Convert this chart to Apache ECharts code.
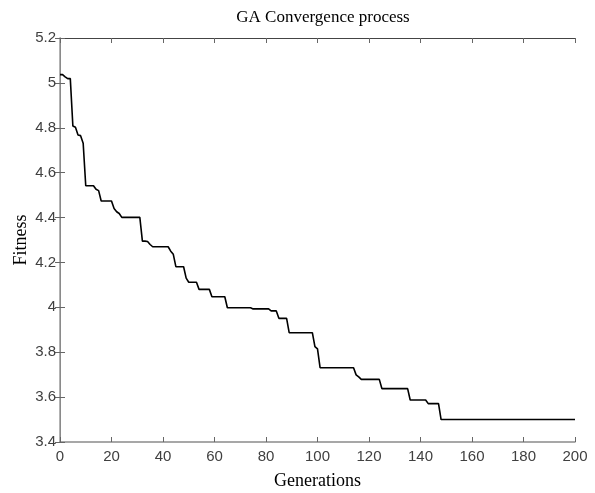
<!DOCTYPE html>
<html>
<head>
<meta charset="utf-8">
<script src="https://cdn.jsdelivr.net/npm/echarts@6/dist/echarts.min.js"></script>
<style>html,body{margin:0;padding:0;background:#fff}#c{width:595px;height:493px}</style>
</head>
<body>
<div id="c"></div>
<script>
// Fitness per generation (0..200)
const gen0to31 = [5.037,5.037,5.027,5.019,5.019,4.808,4.802,4.768,4.765,4.731,
  4.542,4.542,4.542,4.542,4.526,4.520,4.474,4.474,4.474,4.474,
  4.474,4.440,4.426,4.418,4.401,4.401,4.401,4.401,4.401,4.401,4.401,4.401];
const gen32to64 = [4.295,4.295,4.293,4.280,4.270,4.270,4.270,4.270,4.270,4.270,
  4.270,4.250,4.236,4.181,4.181,4.181,4.181,4.130,4.112,4.112,
  4.112,4.112,4.080,4.080,4.080,4.080,4.080,4.047,4.047,4.047,
  4.047,4.047,4.047];
const gen65to100 = [3.998,3.998,3.998,3.998,3.998,3.998,3.998,3.998,3.998,3.998,
  3.993,3.993,3.993,3.993,3.993,3.993,3.993,3.984,3.984,3.984,
  3.951,3.951,3.951,3.951,3.887,3.887,3.887,3.887,3.887,3.887,
  3.887,3.887,3.887,3.887,3.825,3.815];
const gen101to147 = [3.731,3.731,3.731,3.731,3.731,3.731,3.731,3.731,3.731,3.731,
  3.731,3.731,3.731,3.731,3.699,3.690,3.679,3.679,3.679,3.679,
  3.679,3.679,3.679,3.679,3.638,3.638,3.638,3.638,3.638,3.638,
  3.638,3.638,3.638,3.638,3.638,3.587,3.587,3.587,3.587,3.587,
  3.587,3.587,3.571,3.571,3.571,3.571,3.571];
const finalValue = 3.5;   // generations 148..200 stay at this level
const lastGeneration = 200;

const xTicks = [0,20,40,60,80,100,120,140,160,180,200];
const yTicks = [3.4,3.6,3.8,4.0,4.2,4.4,4.6,4.8,5.0,5.2];

const fitness = gen0to31.concat(gen32to64, gen65to100, gen101to147);
while (fitness.length <= lastGeneration) fitness.push(finalValue);
const data = fitness.map((v, i) => [i, v]);

const sans = 'Liberation Sans, Arial, sans-serif';
const serif = 'Liberation Serif, Times New Roman, serif';
const fmtY = v => String(parseFloat(v.toFixed(1)));

const chart = echarts.init(document.getElementById('c'), null, {renderer: 'canvas'});
chart.setOption({
  animation: false,
  backgroundColor: '#fff',
  title: {
    text: 'GA Convergence process', left: 318, top: 4, textAlign: 'center',
    textStyle: {fontFamily: serif, fontSize: 17, fontWeight: 'normal', color: '#000'}
  },
  grid: {left: 60, right: 20, top: 38, bottom: 51, containLabel: false, outerBoundsMode: 'none'},
  xAxis: [{
    type: 'value', min: xTicks[0], max: xTicks[xTicks.length-1], interval: 20,
    name: 'Generations', nameLocation: 'middle', nameGap: 30, nameMoveOverlap: false,
    nameTextStyle: {fontFamily: serif, fontSize: 18, color: '#000'},
    axisLine: {show: true, lineStyle: {color: '#8a8a8a', width: 1.5}},
    axisTick: {show: true, inside: true, length: 5, lineStyle: {color: '#666'}},
    axisLabel: {fontFamily: sans, fontSize: 15, color: '#404040', margin: 7},
    splitLine: {show: false}
  }, {
    type: 'value', position: 'top', min: xTicks[0], max: xTicks[xTicks.length-1], interval: 20,
    axisLine: {show: true, lineStyle: {color: '#444', width: 1}},
    axisTick: {show: true, inside: true, length: 5, lineStyle: {color: '#666'}},
    axisLabel: {show: false}, splitLine: {show: false}
  }],
  yAxis: [{
    type: 'value', min: yTicks[0], max: yTicks[yTicks.length-1], interval: 0.2,
    name: 'Fitness', nameLocation: 'middle', nameGap: 30, nameMoveOverlap: false,
    nameTextStyle: {fontFamily: serif, fontSize: 18, color: '#000'},
    axisLine: {show: true, lineStyle: {color: '#999', width: 1.5}},
    axisTick: {show: true, inside: true, length: 5, lineStyle: {color: '#666'}},
    axisLabel: {fontFamily: sans, fontSize: 15, color: '#404040', margin: 4, formatter: fmtY},
    splitLine: {show: false}
  }, {
    type: 'value', position: 'right', min: yTicks[0], max: yTicks[yTicks.length-1], interval: 0.2,
    axisLine: {show: true, lineStyle: {color: '#8a8a8a', width: 1}},
    axisTick: {show: true, inside: true, length: 5, lineStyle: {color: '#666'}},
    axisLabel: {show: false}, splitLine: {show: false}
  }],
  series: [{
    type: 'line', data: data, xAxisIndex: 0, yAxisIndex: 0,
    showSymbol: false, symbol: 'none',
    lineStyle: {color: '#000', width: 1.6}
  }]
});
</script>
</body>
</html>
